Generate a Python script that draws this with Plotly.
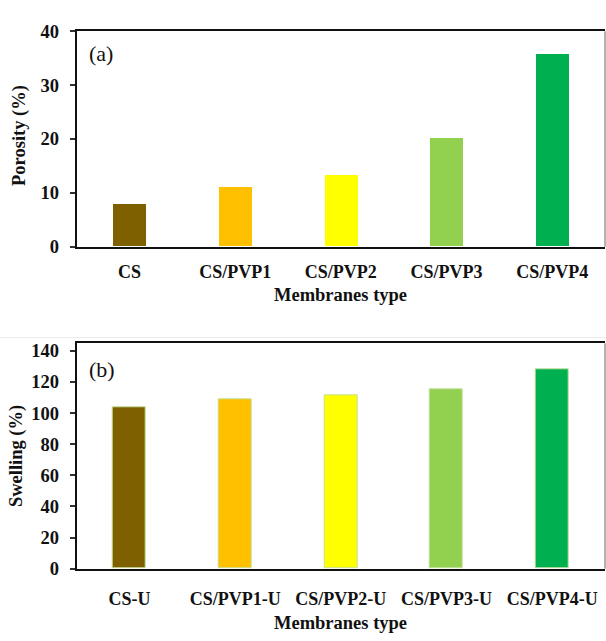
import plotly.graph_objects as go

# Membrane porosity (panel a) and swelling of urea-loaded membranes (panel b)
porosity_types = ["CS", "CS/PVP1", "CS/PVP2", "CS/PVP3", "CS/PVP4"]
porosity_values = [7.8, 11.0, 13.2, 20.1, 35.7]

swelling_types = ["CS-U", "CS/PVP1-U", "CS/PVP2-U", "CS/PVP3-U", "CS/PVP4-U"]
swelling_values = [103.7, 108.9, 111.6, 115.4, 127.8]

bar_colors = ["#7F6000", "#FFC000", "#FFFF00", "#92D050", "#00B050"]

porosity_ticks = [0, 10, 20, 30, 40]
swelling_ticks = [0, 20, 40, 60, 80, 100, 120, 140]

W, H = 606, 641
SERIF = "Liberation Serif, Times New Roman, serif"


def py(px):
    """Convert a pixel row (from top) into paper coordinates."""
    return 1 - px / H


def pxx(px):
    return px / W


fig = go.Figure()

fig.add_trace(go.Bar(
    x=porosity_types, y=porosity_values, width=0.315,
    marker=dict(color=bar_colors, line=dict(width=0)),
    xaxis="x", yaxis="y", showlegend=False,
))
fig.add_trace(go.Bar(
    x=swelling_types, y=swelling_values, width=0.315,
    marker=dict(color=bar_colors, line=dict(width=1, color="#C4E09C")),
    xaxis="x2", yaxis="y2", showlegend=False,
))

x_left, x_right = pxx(76.7), pxx(605)
top_a, bot_a = py(21.9), py(244.3)
top_b, bot_b = py(344), py(576.7)

xaxis_common = dict(
    showline=True, linecolor="#111111", linewidth=2, mirror=True,
    ticks="", showgrid=False, zeroline=False,
    tickfont=dict(family=SERIF, size=18, color="#111111", weight="bold"),
    range=[-0.5, 4.5], fixedrange=True,
)
yaxis_common = dict(
    showline=True, linecolor="#111111", linewidth=2,
    ticks="outside", ticklen=5, tickwidth=1.5, tickcolor="#333333",
    showgrid=False, zeroline=False,
    tickfont=dict(family=SERIF, size=18.5, color="#111111", weight="bold"),
    ticklabelstandoff=7, fixedrange=True,
)

fig.update_layout(
    width=W, height=H,
    margin=dict(l=0, r=0, t=0, b=0),
    paper_bgcolor="white", plot_bgcolor="white",
    bargap=0,
    xaxis=dict(domain=[x_left, x_right], anchor="y",
               ticklabelstandoff=8, **xaxis_common),
    yaxis=dict(domain=[bot_a, top_a], anchor="x", range=[0, 40],
               tickvals=porosity_ticks, **yaxis_common),
    xaxis2=dict(domain=[x_left, x_right], anchor="y2",
                ticklabelstandoff=13, **xaxis_common),
    yaxis2=dict(domain=[bot_b, top_b], anchor="x2", range=[0, 144.8],
                tickvals=swelling_ticks, **yaxis_common),
)

# Right-hand frame edges are drawn lighter than the axes
for y0, y1 in [(bot_a, top_a), (bot_b, top_b)]:
    fig.add_shape(type="line", xref="paper", yref="paper",
                  x0=x_right, x1=x_right, y0=y0, y1=y1,
                  line=dict(color="#9A9A9A", width=1.5))

# Faint separator between the two panels
fig.add_shape(type="line", xref="paper", yref="paper",
              x0=0, x1=1, y0=py(338), y1=py(338),
              line=dict(color="#EBEBEB", width=1))

title_font = dict(family=SERIF, size=18.5, color="#111111", weight="bold")

# Axis titles
fig.add_annotation(text="Membranes type", xref="paper", yref="paper",
                   x=(x_left + x_right) / 2, y=py(294), showarrow=False,
                   font=title_font, xanchor="center", yanchor="middle")
fig.add_annotation(text="Membranes type", xref="paper", yref="paper",
                   x=(x_left + x_right) / 2, y=py(632.5), showarrow=False,
                   font=title_font, xanchor="center", yanchor="middle")
fig.add_annotation(text="Porosity (%)", xref="paper", yref="paper",
                   x=pxx(20), y=py(130), showarrow=False, textangle=-90,
                   font=title_font, xanchor="center", yanchor="middle")
fig.add_annotation(text="Swelling (%)", xref="paper", yref="paper",
                   x=pxx(16.5), y=py(461), showarrow=False, textangle=-90,
                   font=title_font, xanchor="center", yanchor="middle")

# Panel labels
panel_font = dict(family=SERIF, size=22, color="#111111")
fig.add_annotation(text="(a)", xref="paper", yref="paper",
                   x=pxx(87), y=py(45), showarrow=False,
                   font=panel_font, xanchor="left", yanchor="middle")
fig.add_annotation(text="(b)", xref="paper", yref="paper",
                   x=pxx(87), y=py(371), showarrow=False,
                   font=panel_font, xanchor="left", yanchor="middle")

fig.write_html("out.html")
